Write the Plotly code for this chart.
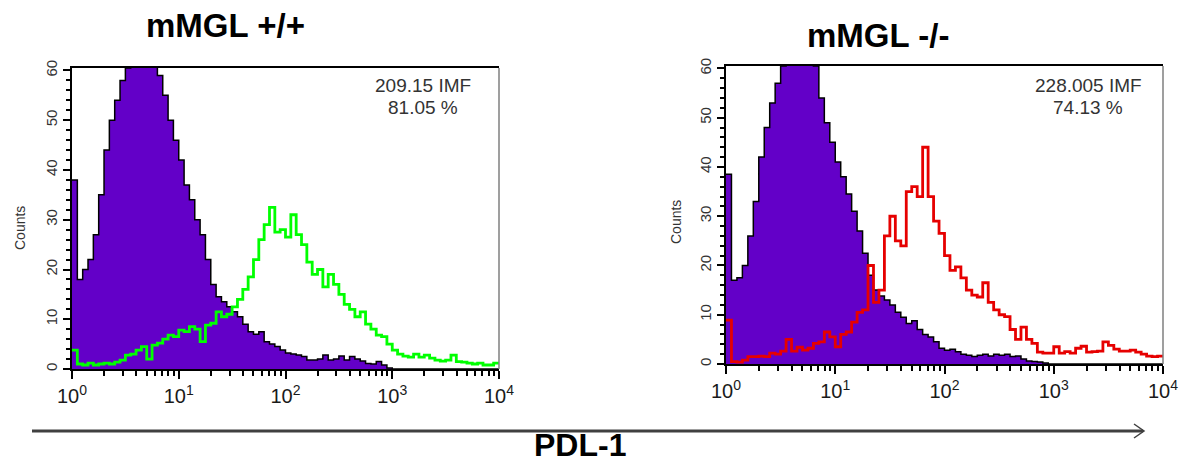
import numpy as np
import plotly.graph_objects as go

# Channel layout: 80 log-spaced channels, 0.05 decade each, from 10^0 to 10^4
n_channels = 80
channel_edges = [10 ** (0.05 * i) for i in range(n_channels + 1)]

# mMGL +/+ : isotype control (filled) and PDL-1 stain (open)
wt_control = [38, 18, 20, 22, 27, 35, 44, 50, 54, 58,
              60.5, 61, 62, 62, 62, 61, 59, 55, 50, 46,
              42, 37, 34, 30, 27, 22, 17, 14.5, 13.5, 12.5,
              11.5, 10.5, 9, 7.5, 7, 7.5, 5.5, 5, 4.5, 3.8,
              3.2, 3, 2.8, 2.5, 1.8, 1.8, 2, 2.8, 1.8, 2,
              2.6, 1.8, 2.5, 2, 1.6, 1.1, 1, 1.5, 0.8, 0.2,
              0, 0, 0, 0, 0, 0, 0, 0, 0, 0,
              0, 0, 0, 0, 0, 0, 0, 0, 0, 0]
wt_pdl1 = [3.8, 1, 0.8, 1.2, 0.8, 1, 1.2, 1, 1.4, 1.8,
           2.8, 3, 3.8, 4.5, 2, 4.8, 5.2, 6, 6.8, 6.5,
           7.8, 7.5, 8.5, 8, 5.5, 8.8, 9.2, 11.5, 10.5, 11,
           12.5, 14, 16, 18.5, 22, 26, 29, 32.5, 27.5, 28,
           26.5, 31, 27, 25, 21.5, 19, 20, 16.5, 19, 17,
           15, 13, 12, 10.5, 11.5, 9, 8, 6.8, 6.5, 5,
           3.8, 3, 2.6, 2.4, 3, 2.4, 2.8, 2.2, 1.8, 1.6,
           1.8, 2.8, 1.5, 1.4, 1.2, 1, 1.2, 0.8, 0.8, 1.2]

# mMGL -/- : isotype control (filled) and PDL-1 stain (open)
ko_control = [38.5, 17, 17.5, 20, 26, 33, 42, 48, 53, 57,
              60.5, 62, 62, 62, 62, 61, 60.5, 54, 49, 45,
              41, 38, 34.5, 31, 27, 22.5, 18, 15, 13.8, 13,
              12, 10.5, 9.5, 8.2, 8.8, 7, 6, 5.5, 4.5, 3.2,
              2.8, 3, 2.5, 2, 1.8, 1.5, 1.8, 2, 1.6, 2,
              1.8, 2, 1.5, 1.6, 1, 0.6, 0.5, 0.4, 0.2, 0,
              0, 0, 0, 0, 0, 0, 0, 0, 0, 0,
              0, 0, 0, 0, 0, 0, 0, 0, 0, 0]
ko_pdl1 = [8.9, 0.5, 0.4, 0.8, 1.5, 1.5, 1.6, 1.5, 2.2, 2,
           2.6, 5, 2.6, 3.4, 2.8, 3.2, 4.2, 4.5, 6.5, 5.5,
           3.5, 6, 6.5, 8.5, 10.5, 11, 20, 12.5, 15, 26,
           30, 25, 24, 35, 36, 34, 44, 34, 29, 26.5,
           22, 19, 19.7, 17.5, 15, 14, 13.6, 16.5, 12.5, 11,
           10, 9.6, 7, 5, 7.5, 5, 4.2, 2.4, 2.2, 2.2,
           3.5, 2.2, 2.5, 2.2, 3.2, 3.6, 2.4, 2.5, 2.6, 4.5,
           3.8, 3, 2.6, 2.6, 2.8, 2.4, 2, 1.6, 1.5, 1.6]

panel_titles = ["mMGL +/+", "mMGL -/-"]
panel_stats = [("209.15 IMF", "81.05 %"), ("228.005 IMF", "74.13 %")]
decade_vals = [1, 10, 100, 1000, 10000]
decade_text = ["10<sup>0</sup>", "10<sup>1</sup>", "10<sup>2</sup>",
               "10<sup>3</sup>", "10<sup>4</sup>"]
y_tick_vals = [0, 10, 20, 30, 40, 50, 60]
x_axis_label = "PDL-1"
y_axis_label = "Counts"

W, H = 1184, 464
CONTROL_FILL = "#6300C8"
STAIN_COLORS = ["#00FF00", "#E60000"]
FONT = "Liberation Sans, Arial"


def steps(vals):
    return channel_edges, list(vals) + [vals[-1]]


fig = go.Figure()

panels = [(wt_control, wt_pdl1, "x", "y"), (ko_control, ko_pdl1, "x2", "y2")]
for k, (ctrl, stain, xa, ya) in enumerate(panels):
    xs, ys = steps(ctrl)
    fig.add_trace(go.Scatter(x=xs, y=ys, mode="lines", xaxis=xa, yaxis=ya,
                             line=dict(color="black", width=1.5, shape="hv"),
                             fill="tozeroy", fillcolor=CONTROL_FILL,
                             showlegend=False, hoverinfo="skip"))
    xs, ys = steps(stain)
    fig.add_trace(go.Scatter(x=xs, y=ys, mode="lines", xaxis=xa, yaxis=ya,
                             line=dict(color=STAIN_COLORS[k], width=2.8, shape="hv"),
                             showlegend=False, hoverinfo="skip"))

# Pixel geometry of the two histogram frames (left, right, bottom, top)
frames = [(72, 499, 369, 68), (726, 1163, 364, 66)]

minor_x = [m * 10 ** d for d in range(4) for m in range(2, 10)]

axis_common_x = dict(type="log", range=[0, 4], showgrid=False, zeroline=False,
                     automargin=False,
                     showline=True, linecolor="black", linewidth=2, mirror=True,
                     ticks="outside", ticklen=8, tickwidth=2, tickcolor="black",
                     tickvals=decade_vals, ticktext=decade_text,
                     tickfont=dict(family=FONT, size=20, color="#1a1a1a"),
                     minor=dict(tickvals=minor_x, ticks="outside", ticklen=5,
                                tickwidth=1.5, tickcolor="black"))
axis_common_y = dict(range=[0, 60.5], showgrid=False, zeroline=False,
                     automargin=False,
                     showline=True, linecolor="black", linewidth=2,
                     ticks="outside", ticklen=7, tickwidth=2, tickcolor="black",
                     tickvals=y_tick_vals, tickangle=-90,
                     tickfont=dict(family=FONT, size=15, color="#333333"),
                     minor=dict(dtick=2, ticks="outside", ticklen=4,
                                tickwidth=1.5, tickcolor="black"))

layout_axes = {}
for k, (x0, x1, yb, yt) in enumerate(frames):
    sfx = "" if k == 0 else str(k + 1)
    layout_axes["xaxis" + sfx] = dict(axis_common_x, domain=[x0 / W, x1 / W],
                                      anchor="y" + sfx)
    layout_axes["yaxis" + sfx] = dict(axis_common_y, domain=[(H - yb) / H, (H - yt) / H],
                                      anchor="x" + sfx)

fig.update_layout(width=W, height=H, margin=dict(l=0, r=0, t=0, b=0, autoexpand=False),
                  paper_bgcolor="white", plot_bgcolor="white", **layout_axes)

# Grey right-hand frame edge on each histogram
for k in range(2):
    sfx = "" if k == 0 else str(k + 1)
    fig.add_shape(type="line", xref="x" + sfx + " domain", yref="y" + sfx + " domain",
                  x0=1, x1=1, y0=0, y1=1, line=dict(color="#7f7f7f", width=1.5))

# Panel titles
title_pos = [(225, 25), (878, 35)]
for (tx, ty), txt in zip(title_pos, panel_titles):
    fig.add_annotation(x=tx / W, y=1 - ty / H, xref="paper", yref="paper",
                       text="<b>" + txt + "</b>", showarrow=False,
                       font=dict(family=FONT, size=33, color="black"),
                       xanchor="center", yanchor="middle")

# MFI / percentage readouts
stat_x = [423, 1088]
for sx, (l1, l2) in zip(stat_x, panel_stats):
    for txt, sy in ((l1, 85), (l2, 108)):
        fig.add_annotation(x=sx / W, y=1 - sy / H, xref="paper", yref="paper",
                           text=txt, showarrow=False,
                           font=dict(family=FONT, size=19, color="#333333"),
                           xanchor="center", yanchor="middle")

# "Counts" y-axis labels
count_pos = [(20, 228), (676, 222)]
for cx, cy in count_pos:
    fig.add_annotation(x=cx / W, y=1 - cy / H, xref="paper", yref="paper",
                       text=y_axis_label, showarrow=False, textangle=-90,
                       font=dict(family=FONT, size=14, color="#333333"),
                       xanchor="center", yanchor="middle")

# Shared fluorescence axis arrow and label
fig.add_shape(type="line", xref="paper", yref="paper",
              x0=32 / W, x1=1143 / W, y0=1 - 431 / H, y1=1 - 431 / H,
              line=dict(color="#404040", width=3))
fig.add_shape(type="path", xref="paper", yref="paper",
              path=f"M {1134 / W} {1 - 424 / H} L {1144 / W} {1 - 431 / H} L {1134 / W} {1 - 438 / H}",
              line=dict(color="#404040", width=1.5))
fig.add_annotation(x=580 / W, y=1 - 445 / H, xref="paper", yref="paper",
                   text="<b>" + x_axis_label + "</b>", showarrow=False,
                   font=dict(family=FONT, size=32, color="black"),
                   xanchor="center", yanchor="middle")

fig.write_html("out.html")
